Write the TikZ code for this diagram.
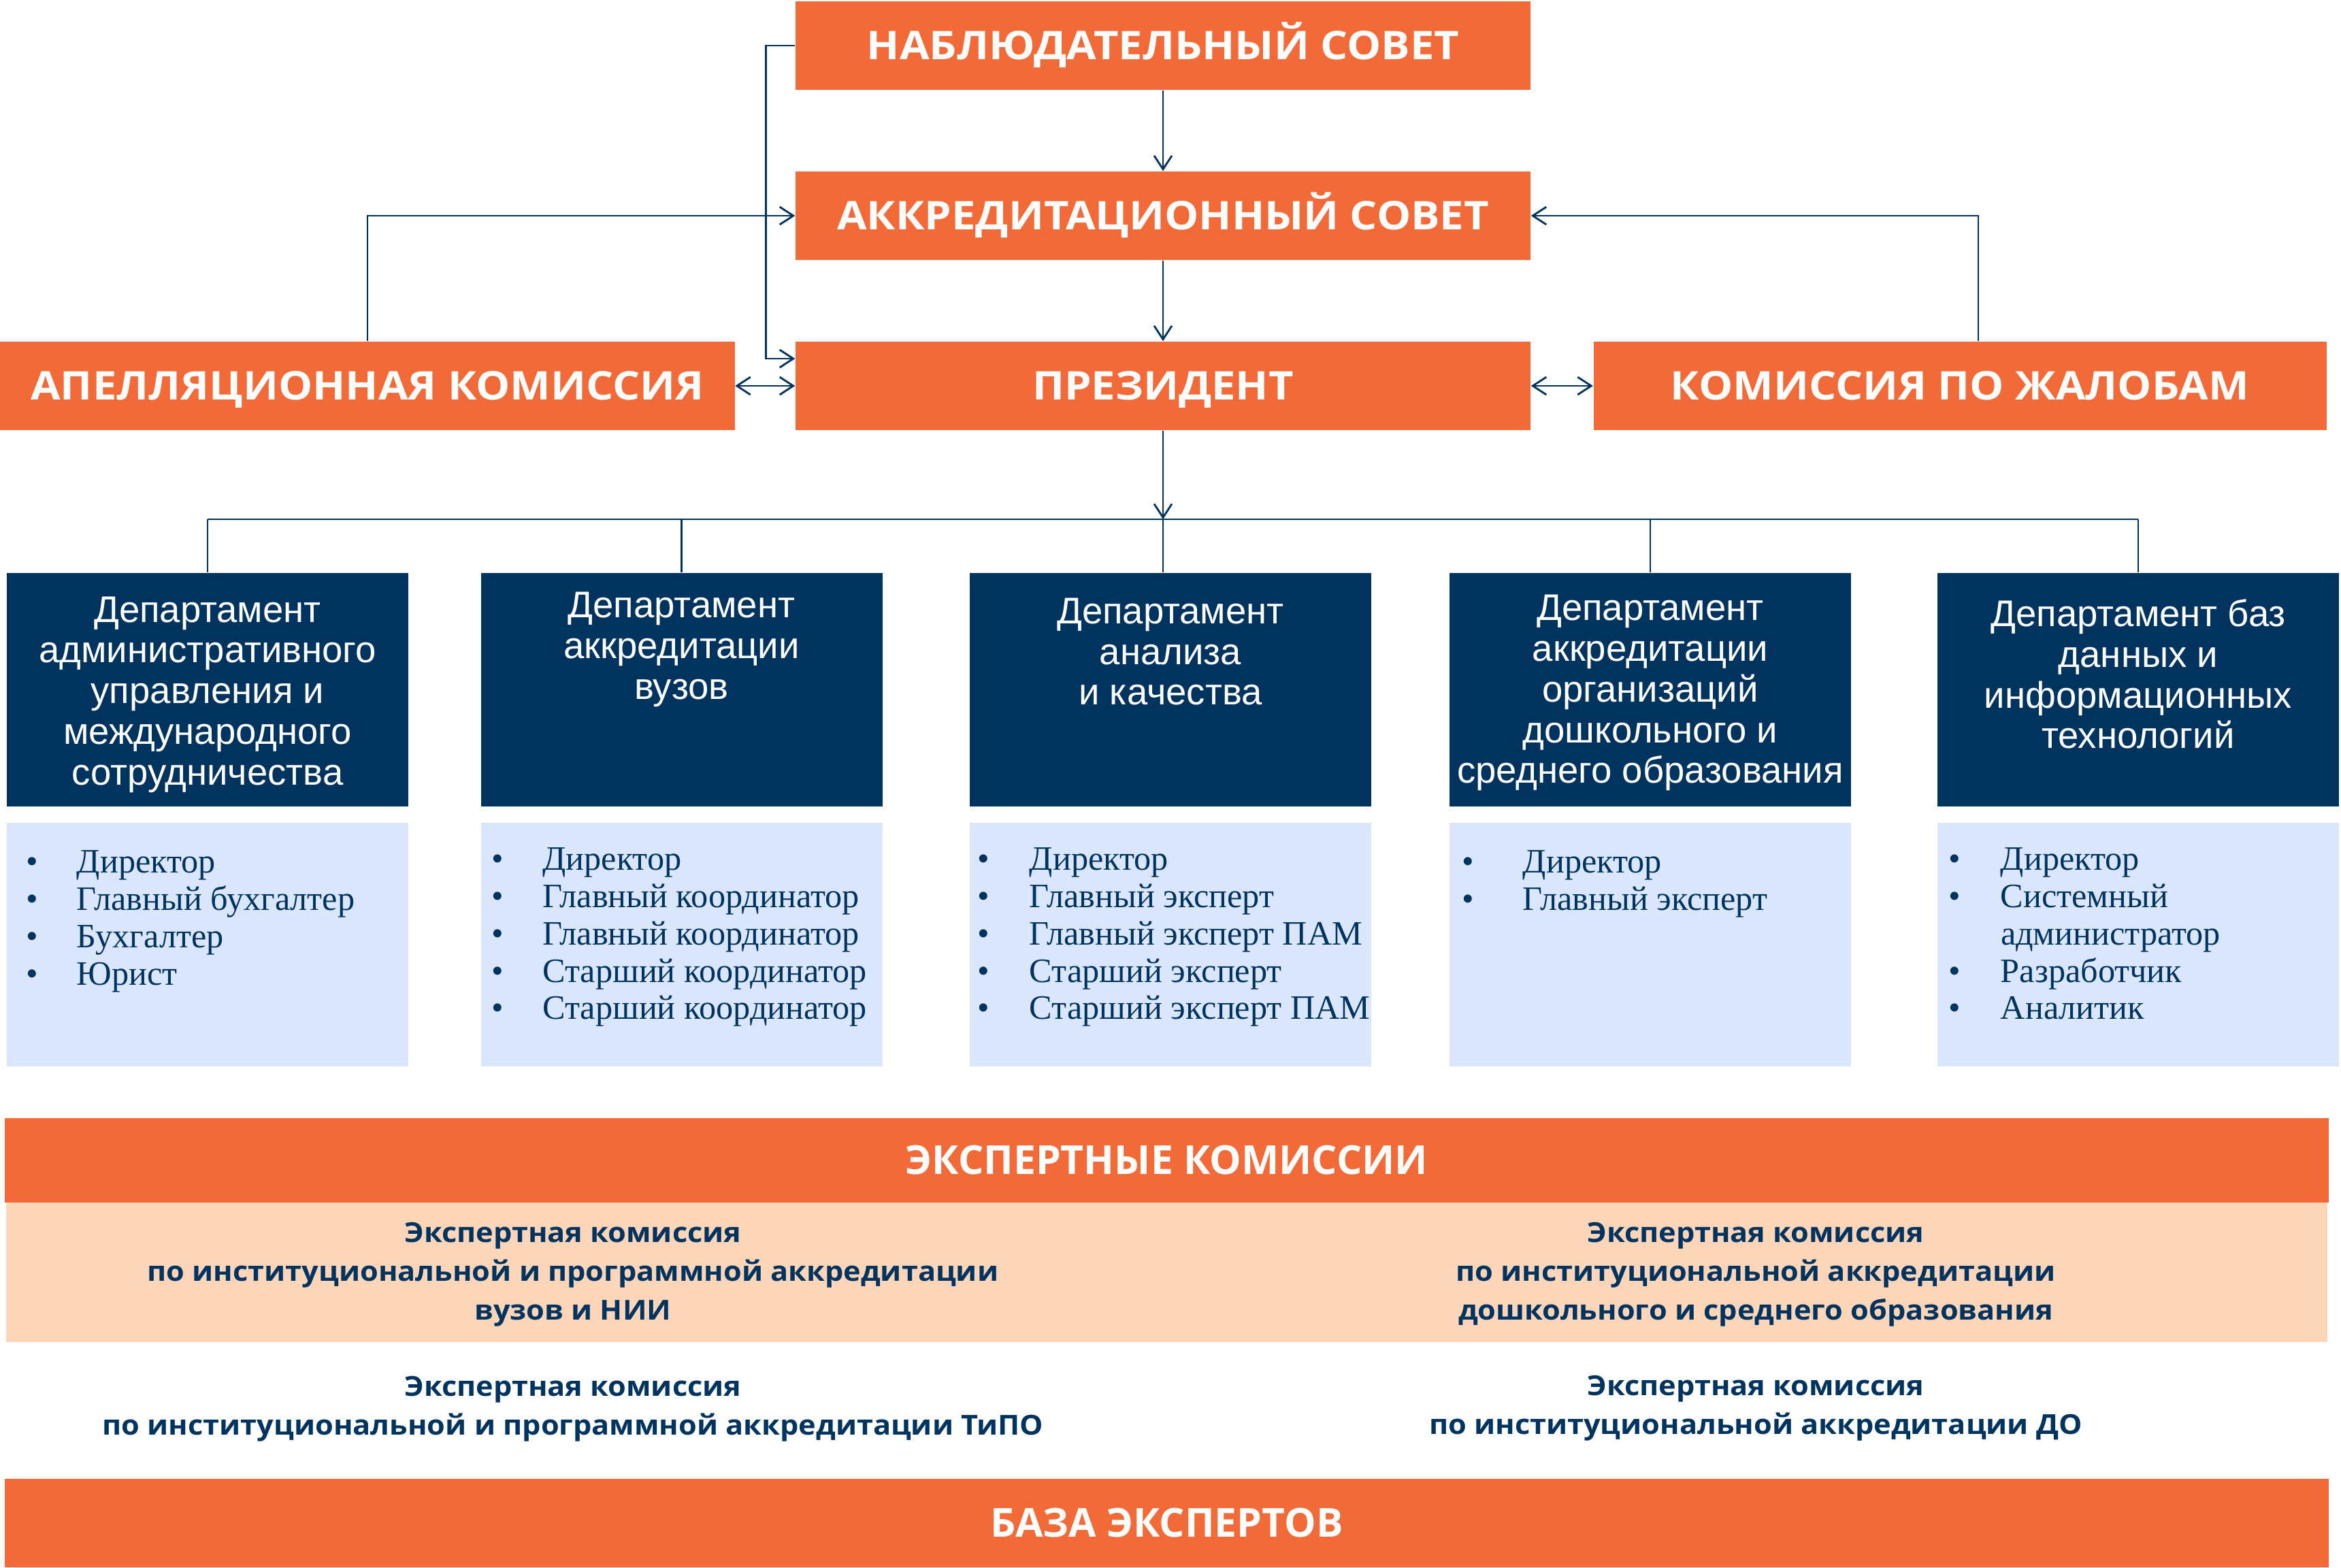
\documentclass[tikz,border=0pt]{standalone}
\usepackage{fontspec}
\setmainfont{Liberation Serif}
\newfontfamily\headfont[FakeStretch=1.09]{Open Sans}
\newfontfamily\barfont{Open Sans}
\newfontfamily\comfont[FakeStretch=1.07]{Open Sans}
\newfontfamily\deptfont{Liberation Sans}
\usetikzlibrary{arrows.meta}
\definecolor{accorange}{HTML}{F26A38}
\definecolor{accnavy}{HTML}{01335F}
\definecolor{acclight}{HTML}{DAE6FB}
\definecolor{accpeach}{HTML}{FDD6BA}
\newcommand{\bul}[1][0.75cm]{\makebox[#1][l]{\textbullet}}
\begin{document}
\begin{tikzpicture}[
  orangebox/.style={fill=accorange, text=white, font=\headfont\bfseries\fontsize{16.5}{20}\selectfont, minimum height=1.3cm, inner sep=0pt, text height=11.8pt, text depth=0pt},
  barbox/.style={orangebox, font=\barfont\bfseries\fontsize{16.7}{20}\selectfont, minimum width=34.15cm},
  deptbox/.style={fill=accnavy, minimum width=5.9cm, minimum height=3.43cm, inner sep=0pt},
  depttext/.style={text=white, font=\deptfont\fontsize{15.5}{17}\selectfont, align=center, anchor=north, inner sep=0pt},
  listbox/.style={fill=acclight, minimum width=5.9cm, minimum height=3.58cm, anchor=north, inner sep=0pt},
  listtext/.style={text=accnavy, font=\fontsize{14.3}{15.6}\selectfont, align=left, anchor=north west, inner sep=0pt},
  comtext/.style={text=accnavy, font=\comfont\bfseries\fontsize{11.5}{16.2}\selectfont, align=center, inner sep=0pt},
  conn/.style={draw=accnavy, line width=0.8pt},
  arr/.style={conn, -{Straight Barb[length=2mm,width=2.6mm]}},
  dblarr/.style={conn, {Straight Barb[length=2mm,width=2.6mm]}-{Straight Barb[length=2mm,width=2.6mm]}}
]
\useasboundingbox (0,0) rectangle (34.4,-23.04);

\node[orangebox, minimum width=10.8cm] (ns) at (17.09,-0.67) {НАБЛЮДАТЕЛЬНЫЙ СОВЕТ};
\node[orangebox, minimum width=10.8cm] (as) at (17.09,-3.17) {АККРЕДИТАЦИОННЫЙ СОВЕТ};
\node[orangebox, minimum width=10.8cm] (pres) at (17.09,-5.67) {ПРЕЗИДЕНТ};
\node[orangebox, minimum width=10.79cm] (apel) at (5.40,-5.67) {АПЕЛЛЯЦИОННАЯ КОМИССИЯ};
\node[orangebox, minimum width=10.77cm] (kom) at (28.80,-5.67) {КОМИССИЯ ПО ЖАЛОБАМ};

\draw[arr] (ns) -- (as);
\draw[arr] (as) -- (pres);
\draw[arr] (ns.west) -- ++(-0.43,0) |- ([yshift=0.4cm]pres.west);
\draw[arr] (apel.north) |- (as.west);
\draw[arr] ([xshift=0.27cm]kom.north) |- (as.east);
\draw[dblarr] (apel) -- (pres);
\draw[dblarr] (pres) -- (kom);

\node[deptbox] (d1) at (3.05,-10.135) {};
\node[deptbox] (d2) at (10.015,-10.135) {};
\node[deptbox] (d3) at (17.20,-10.135) {};
\node[deptbox] (d4) at (24.25,-10.135) {};
\node[deptbox] (d5) at (31.42,-10.135) {};
\node[depttext] (d1t) at ([yshift=-0.346cm]d1.north) {Департамент\\административного\\управления и\\международного\\сотрудничества};
\node[depttext] (d2t) at ([yshift=-0.284cm]d2.north) {Департамент\\аккредитации\\вузов};
\node[depttext] (d3t) at ([yshift=-0.368cm]d3.north) {Департамент\\анализа\\и качества};
\node[depttext] (d4t) at ([yshift=-0.324cm]d4.north) {Департамент\\аккредитации\\организаций\\дошкольного и\\среднего образования};
\node[depttext] (d5t) at ([yshift=-0.386cm]d5.north) {Департамент баз\\данных и\\информационных\\технологий};

\coordinate (bus) at (17.09,-7.63);
\draw[arr] (pres) -- (bus);
\draw[conn] (d1.north |- bus) -- (d5.north |- bus);
\draw[conn] (d1.north |- bus) -- (d1.north);
\draw[conn] (d2.north |- bus) -- (d2.north);
\draw[conn] (bus) -- (bus |- d3.north);
\draw[conn] (d4.north |- bus) -- (d4.north);
\draw[conn] (d5.north |- bus) -- (d5.north);

\node[listbox] (l1) at (3.05,-12.08) {};
\node[listbox] (l2) at (10.015,-12.08) {};
\node[listbox] (l3) at (17.20,-12.08) {};
\node[listbox] (l4) at (24.25,-12.08) {};
\node[listbox] (l5) at (31.42,-12.08) {};
\node[listtext] (l1t) at ([xshift=0.28cm,yshift=-0.41cm]l1.north west) {\bul Директор\\\bul Главный бухгалтер\\\bul Бухгалтер\\\bul Юрист};
\node[listtext] (l2t) at ([xshift=0.16cm,yshift=-0.37cm]l2.north west) {\bul Директор\\\bul Главный координатор\\\bul Главный координатор\\\bul Старший координатор\\\bul Старший координатор};
\node[listtext] (l3t) at ([xshift=0.11cm,yshift=-0.37cm]l3.north west) {\bul[0.77cm]Директор\\\bul[0.77cm]Главный эксперт\\\bul[0.77cm]Главный эксперт ПАМ\\\bul[0.77cm]Старший эксперт\\\bul[0.77cm]Старший эксперт ПАМ};
\node[listtext] (l4t) at ([xshift=0.18cm,yshift=-0.41cm]l4.north west) {\bul[0.9cm]Директор\\\bul[0.9cm]Главный эксперт};
\node[listtext] (l5t) at ([xshift=0.16cm,yshift=-0.37cm]l5.north west) {\bul[0.77cm]Директор\\\bul[0.77cm]Системный\\\makebox[0.77cm]{}администратор\\\bul[0.77cm]Разработчик\\\bul[0.77cm]Аналитик};

\node[barbox, minimum height=1.24cm] (ek) at (17.145,-17.05) {ЭКСПЕРТНЫЕ КОМИССИИ};
\node[fill=accpeach, minimum width=34.11cm, minimum height=2.05cm, inner sep=0pt] (peach) at (17.145,-18.695) {};
\node[comtext] (k1) at (8.42,-18.73) {Экспертная комиссия\\по институциональной и программной аккредитации\\вузов и НИИ};
\node[comtext] (k2) at (25.80,-18.73) {Экспертная комиссия\\по институциональной аккредитации\\дошкольного и среднего образования};
\node[comtext] (k3) at (8.42,-20.70) {Экспертная комиссия\\по институциональной и программной аккредитации ТиПО};
\node[comtext] (k4) at (25.80,-20.69) {Экспертная комиссия\\по институциональной аккредитации ДО};
\node[barbox] (base) at (17.145,-22.38) {БАЗА ЭКСПЕРТОВ};
\end{tikzpicture}
\end{document}
